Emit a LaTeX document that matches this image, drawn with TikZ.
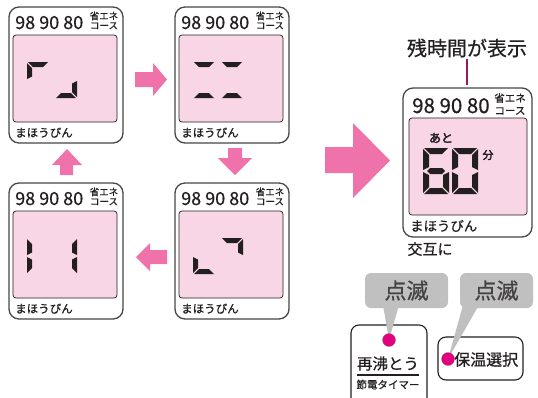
\documentclass[tikz,border=0pt]{standalone}
\usepackage{fontspec}
\setmainfont{Noto Sans CJK JP}[FakeBold=0.6]
\newfontfamily\heavyjp{Noto Sans CJK JP}[FakeBold=3]
\definecolor{lcdP}{RGB}{249,214,229}
\definecolor{arrP}{RGB}{240,114,170}
\definecolor{dotM}{RGB}{228,0,127}
\definecolor{leadM}{RGB}{150,25,95}
\definecolor{tagG}{RGB}{192,192,192}
\definecolor{inkD}{RGB}{35,31,32}
\definecolor{frameD}{RGB}{70,70,70}
\newcommand{\jfs}[1]{\fontsize{#1}{#1}\selectfont}
% segment sizes (redefined locally for the large digits)
\newcommand{\dgW}{22}
\newcommand{\dgH}{36}
\newcommand{\dgT}{5}
\newcommand{\dgG}{1}
\newcommand{\lcdA}{\fill[segink] (\dgG,0) -- (\dgW-\dgG,0) -- (\dgW-\dgG-\dgT,\dgT) -- (\dgG+\dgT,\dgT) -- cycle;}
\newcommand{\lcdB}{\fill[segink] (\dgW,\dgG) -- (\dgW,\dgH/2-\dgG) -- (\dgW-\dgT,\dgH/2-\dgG-\dgT/2) -- (\dgW-\dgT,\dgG+\dgT) -- cycle;}
\newcommand{\lcdC}{\fill[segink] (\dgW,\dgH/2+\dgG) -- (\dgW,\dgH-\dgG) -- (\dgW-\dgT,\dgH-\dgG-\dgT) -- (\dgW-\dgT,\dgH/2+\dgG+\dgT/2) -- cycle;}
\newcommand{\lcdD}{\fill[segink] (\dgG,\dgH) -- (\dgW-\dgG,\dgH) -- (\dgW-\dgG-\dgT,\dgH-\dgT) -- (\dgG+\dgT,\dgH-\dgT) -- cycle;}
\newcommand{\lcdE}{\fill[segink] (0,\dgH/2+\dgG) -- (0,\dgH-\dgG) -- (\dgT,\dgH-\dgG-\dgT) -- (\dgT,\dgH/2+\dgG+\dgT/2) -- cycle;}
\newcommand{\lcdF}{\fill[segink] (0,\dgG) -- (0,\dgH/2-\dgG) -- (\dgT,\dgH/2-\dgG-\dgT/2) -- (\dgT,\dgG+\dgT) -- cycle;}
\newcommand{\lcdG}{\fill[segink] (\dgG+\dgT/2,\dgH/2) -- (\dgG+\dgT,\dgH/2-\dgT/2) -- (\dgW-\dgG-\dgT,\dgH/2-\dgT/2) -- (\dgW-\dgG-\dgT/2,\dgH/2) -- (\dgW-\dgG-\dgT,\dgH/2+\dgT/2) -- (\dgG+\dgT,\dgH/2+\dgT/2) -- cycle;}

\begin{document}
\begin{tikzpicture}[x=1pt,y=-1pt,
  frame/.style={draw=frameD,line width=1.3pt,rounded corners=10pt,fill=white},
  lcd/.style={draw=inkD,line width=0.7pt,rounded corners=3pt,fill=lcdP},
  segink/.style={fill=inkD},
  numtxt/.style={inner sep=0pt,anchor=base west,text=inkD},
  ecotxt/.style={inner sep=0pt,anchor=base,text=inkD},
  brandtxt/.style={inner sep=0pt,anchor=base west,text=inkD},
  blockarrow/.style={fill=arrP},
  button/.style={draw=inkD,line width=1.1pt,rounded corners=8pt,fill=white},
  tag/.style={fill=tagG,rounded corners=6pt,text=inkD!85,font=\jfs{22},inner sep=0pt},
  lamp/.style={circle,fill=dotM,draw=inkD!60,line width=0.3pt,minimum size=13pt,inner sep=0pt}]
\useasboundingbox (0,0) rectangle (538,397);
% four small displays
\foreach \px/\py/\nm in {9/7/pa,175/7/pb,9/183/pc,175/183/pd}{
  \begin{scope}[shift={(\px,\py)}]
    \draw[frame] (0,0) rectangle (114,136);
    \draw[lcd] (4,28) rectangle (108,115);
    \node[numtxt,font=\jfs{18}] (\nm-num) at (6,22) {98 90 80};
    \node[ecotxt,font=\jfs{9.5}] (\nm-eco1) at (95,12.5) {省エネ};
    \node[ecotxt,font=\jfs{9.5}] (\nm-eco2) at (95,22) {コース};
    \node[brandtxt,font=\jfs{11.5}] (\nm-brand) at (6,130) {まほうびん};
  \end{scope}
}
% segments
\begin{scope}[shift={(27,62)}] \lcdA \lcdF \end{scope}
\begin{scope}[shift={(55,62)}] \lcdD \lcdC \end{scope}
\begin{scope}[shift={(193,62)}] \lcdA \lcdD \end{scope}
\begin{scope}[shift={(221,62)}] \lcdA \lcdD \end{scope}
\begin{scope}[shift={(27,238)}] \lcdF \lcdE \end{scope}
\begin{scope}[shift={(55,238)}] \lcdB \lcdC \end{scope}
\begin{scope}[shift={(193,238)}] \lcdE \lcdD \end{scope}
\begin{scope}[shift={(221,238)}] \lcdA \lcdB \end{scope}
% arrows between the small displays
\fill[blockarrow] (135,72) -- (153,72) -- (153,63) -- (167,79.5) -- (153,96) -- (153,87) -- (135,87) -- cycle;
\fill[blockarrow] (228,148) -- (242,148) -- (242,158) -- (252,158) -- (235,175) -- (218,158) -- (228,158) -- cycle;
\fill[blockarrow] (167,250) -- (150,250) -- (150,243) -- (136,257) -- (150,271) -- (150,264) -- (167,264) -- cycle;
\fill[blockarrow] (60,175) -- (60,165) -- (52,165) -- (67,149) -- (82,165) -- (73,165) -- (73,175) -- cycle;
\fill[blockarrow] (325,147) -- (353,147) -- (353,123) -- (390,160.5) -- (353,198) -- (353,173) -- (325,173) -- cycle;
% large display
\begin{scope}[shift={(403,88)}]
  \draw[frame] (0,0) rectangle (129,149);
  \draw[lcd] (6,30) rectangle (124,127);
  \node[numtxt,font=\jfs{20.5}] (big-num) at (9,25) {98 90 80};
  \node[ecotxt,font=\jfs{10.5}] (big-eco1) at (107,14) {省エネ};
  \node[ecotxt,font=\jfs{10.5}] (big-eco2) at (107,26.5) {コース};
  \node[brandtxt,font=\jfs{13.4}] (big-brand) at (7,143) {まほうびん};
  \node[text=inkD,font=\heavyjp\jfs{12},inner sep=0pt] (big-ato) at (38,50) {あと};
  \node[text=inkD,font=\heavyjp\jfs{11},inner sep=0pt] (big-fun) at (85,67) {分};
\end{scope}
\begin{scope}
  \renewcommand{\dgW}{26}\renewcommand{\dgH}{46}\renewcommand{\dgT}{6}
  \begin{scope}[shift={(423,148)}] \lcdA \lcdF \lcdG \lcdE \lcdD \lcdC \end{scope}
  \begin{scope}[shift={(452,148)}] \lcdA \lcdB \lcdC \lcdD \lcdE \lcdF \end{scope}
\end{scope}
\node[text=inkD,font=\jfs{20},inner sep=1pt] (remain) at (467,48) {残時間が表示};
\coordinate (remain-end) at (467,85);
\draw[leadM,line width=2.5pt] (remain) -- (remain-end);
\node[text=inkD,font=\jfs{15},inner sep=0pt] (alt) at (430,249) {交互に};
% buttons
\draw[button] (351,325) rectangle (427,412);
\draw[button] (438,337) rectangle (523,380);
\node[text=inkD,font=\jfs{15.5},inner sep=0pt] (reboil) at (388,363.5) {再沸とう};
\draw[inkD,line width=1.6pt] (357,375) -- (419,375);
\node[text=inkD,font=\jfs{10.5},inner sep=0pt] (timer) at (388,384.5) {節電タイマー};
\node[text=inkD,font=\jfs{16},inner sep=0pt,anchor=west] (keep) at (454,359.5) {保温選択};
% callouts
\coordinate (lamp1) at (389,340);
\coordinate (lamp2) at (448,359);
\fill[tagG] (383,305) -- (399,305) -- (lamp1) -- cycle;
\fill[tagG] (463,305) -- (479,305) -- (lamp2) -- cycle;
\node[lamp] (dot1) at (lamp1) {};
\node[lamp] (dot2) at (lamp2) {};
\node[tag,minimum width=83pt,minimum height=35pt] (tag1) at (406.5,290.5) {点滅};
\node[tag,minimum width=73pt,minimum height=35pt] (tag2) at (496.5,290.5) {点滅};
\end{tikzpicture}
\end{document}
